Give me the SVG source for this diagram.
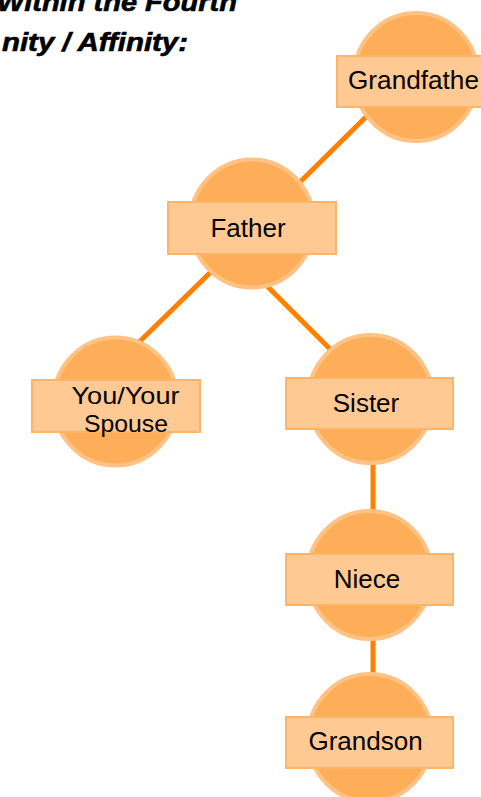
<svg xmlns="http://www.w3.org/2000/svg" width="481" height="797" viewBox="0 0 481 797">
  <style>
    .title { font-family: "Liberation Sans", Arial, sans-serif; font-weight: bold; font-style: italic; font-size: 26px; fill: #000; stroke: #000; stroke-width: 0.6; }
    .conn { stroke: #FF8000; stroke-width: 5; fill: none; }
    .circ { fill: #FEAD58; stroke: #FFC285; stroke-width: 4; }
    .box { fill: #FFC993; stroke: #FFB468; stroke-width: 2; }
    .lbl { font-family: "Liberation Sans", Arial, sans-serif; font-size: 26px; fill: #000; text-anchor: middle; }
    .lbl2 { font-family: "Liberation Sans", Arial, sans-serif; font-size: 24px; fill: #000; text-anchor: middle; }
  </style>
  <rect width="481" height="797" fill="#FFFFFF"/>
  <g id="title">
    <text class="title" x="237" y="11" text-anchor="end" textLength="240" lengthAdjust="spacingAndGlyphs">Within the Fourth</text>
    <text class="title" x="188" y="51" text-anchor="end" textLength="186" lengthAdjust="spacingAndGlyphs">nity / Affinity:</text>
  </g>
  <g id="connectors">
    <line class="conn" x1="377" y1="106" x2="291" y2="191"/>
    <line class="conn" x1="219" y1="264" x2="131" y2="350"/>
    <line class="conn" x1="259" y1="278" x2="339" y2="358"/>
    <line class="conn" x1="373" y1="455" x2="373" y2="520"/>
    <line class="conn" x1="373" y1="630" x2="373" y2="685"/>
  </g>
  <g id="grandfather">
    <ellipse class="circ" cx="416" cy="77" rx="62" ry="64"/>
    <rect class="box" x="337" y="56" width="168" height="51"/>
    <text class="lbl" x="348" y="89" style="text-anchor:start" textLength="131" lengthAdjust="spacingAndGlyphs">Grandfathe</text>
  </g>
  <g id="father">
    <ellipse class="circ" cx="252" cy="223.5" rx="62" ry="64"/>
    <rect class="box" x="168" y="202" width="168" height="52"/>
    <text class="lbl" x="248" y="237">Father</text>
  </g>
  <g id="you">
    <ellipse class="circ" cx="115.5" cy="401.5" rx="62" ry="64"/>
    <rect class="box" x="32" y="380" width="168" height="52"/>
    <text class="lbl2" x="125.5" y="404" textLength="108" lengthAdjust="spacingAndGlyphs">You/Your</text>
    <text class="lbl2" x="126" y="432" textLength="84" lengthAdjust="spacingAndGlyphs">Spouse</text>
  </g>
  <g id="sister">
    <ellipse class="circ" cx="370.5" cy="399" rx="62" ry="64"/>
    <rect class="box" x="286" y="378" width="167" height="51"/>
    <text class="lbl" x="366" y="411.5">Sister</text>
  </g>
  <g id="niece">
    <ellipse class="circ" cx="369.5" cy="575" rx="62" ry="64"/>
    <rect class="box" x="286" y="554" width="167" height="51"/>
    <text class="lbl" x="367" y="588">Niece</text>
  </g>
  <g id="grandson">
    <ellipse class="circ" cx="370" cy="738" rx="62" ry="64"/>
    <rect class="box" x="286" y="717" width="167" height="51"/>
    <text class="lbl" x="365.5" y="750">Grandson</text>
  </g>
</svg>
